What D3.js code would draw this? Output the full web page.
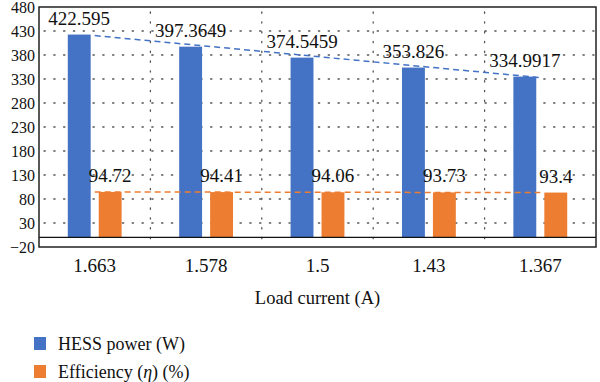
<!DOCTYPE html>
<html>
<head>
<meta charset="UTF-8">
<style>
  body { margin: 0; background: white; }
  svg { display: block; background: white; }
  .grid line { stroke: #555; stroke-width: 1.3; stroke-dasharray: 1.3 8.5; stroke-linecap: round; }
</style>
<script src="https://cdnjs.cloudflare.com/ajax/libs/d3/7.8.5/d3.min.js"></script>
</head>
<body>
<div id="chart"></div>
<script>
// data
const categories = ["1.663", "1.578", "1.5", "1.43", "1.367"];
const hessPower = [422.595, 397.3649, 374.5459, 353.826, 334.9917];
const efficiency = [94.72, 94.41, 94.06, 93.73, 93.4];
const yTicks = [-20, 30, 80, 130, 180, 230, 280, 330, 380, 430, 480];
const seriesNames = ["HESS power (W)", "Efficiency"];
const colors = ["#4472c4", "#ed7d31"];

const width = 600, height = 382;
const margin = {top: 7, right: 4, bottom: 135, left: 39};
const FONT = "Liberation Serif";

const svg = d3.select("#chart").append("svg")
    .attr("width", width)
    .attr("height", height)
    .attr("font-family", FONT);

// every text gets the font directly
function label(sel) {
    return sel.append("text").attr("font-family", FONT).attr("fill", "#111");
}

const x = d3.scaleBand()
    .domain(categories)
    .range([margin.left, width - margin.right]);

const xs = d3.scaleBand()
    .domain(d3.range(2))
    .range([0, x.bandwidth()])
    .paddingInner(0.26)
    .paddingOuter(0.93);

const y = d3.scaleLinear()
    .domain([-20, 480])
    .range([height - margin.bottom, margin.top]);

// dotted grid
const grid = svg.append("g").attr("class", "grid");
grid.selectAll(".h")
    .data(yTicks.slice(1, -1))
    .enter().append("line")
    .attr("x1", margin.left + 5)
    .attr("x2", width - margin.right - 2)
    .attr("y1", d => y(d))
    .attr("y2", d => y(d));
grid.selectAll(".v")
    .data(categories.slice(1))
    .enter().append("line")
    .attr("x1", d => x(d))
    .attr("x2", d => x(d))
    .attr("y1", margin.top + 5)
    .attr("y2", y(-20));

// bars
const series = [hessPower, efficiency];
series.forEach((vals, s) => {
    svg.append("g").selectAll("rect")
        .data(vals)
        .enter().append("rect")
        .attr("x", (d, i) => x(categories[i]) + xs(s))
        .attr("width", xs.bandwidth())
        .attr("y", d => y(d))
        .attr("height", d => y(0) - y(d))
        .attr("fill", colors[s]);
});

// linear trendlines, from first to last category centre
function trend(vals) {
    const idx = vals.map((d, i) => i + 1);
    const mx = d3.mean(idx), my = d3.mean(vals);
    const b = d3.sum(vals, (d, i) => (idx[i] - mx) * (d - my)) / d3.sum(idx, t => (t - mx) ** 2);
    return t => my + b * (t - mx);
}
series.forEach((vals, s) => {
    const f = trend(vals);
    svg.append("line")
        .attr("x1", x(categories[0]) + x.bandwidth() / 2)
        .attr("x2", x(categories[4]) + x.bandwidth() / 2)
        .attr("y1", y(f(1)))
        .attr("y2", y(f(5)))
        .attr("stroke", colors[s])
        .attr("stroke-width", 1.5)
        .attr("stroke-dasharray", "6 4");
});

// data labels
series.forEach((vals, s) => {
    const g = svg.append("g");
    vals.forEach((d, i) => {
        label(g)
            .attr("x", x(categories[i]) + xs(s) + xs.bandwidth() / 2)
            .attr("y", y(d) - 10)
            .attr("text-anchor", "middle")
            .attr("font-size", 19)
            .text(d);
    });
});

// zero line
svg.append("line")
    .attr("x1", margin.left).attr("x2", width - margin.right)
    .attr("y1", y(0)).attr("y2", y(0))
    .attr("stroke", "#111").attr("stroke-width", 1.3);

// frame
svg.append("rect")
    .attr("x", margin.left).attr("y", y(480))
    .attr("width", width - margin.right - margin.left)
    .attr("height", y(-20) - y(480))
    .attr("fill", "none")
    .attr("stroke", "#222").attr("stroke-width", 1.5);

// y axis labels
const yLab = svg.append("g");
yTicks.forEach(d => {
    label(yLab)
        .attr("x", margin.left - 4)
        .attr("y", y(d))
        .attr("dy", "0.35em")
        .attr("text-anchor", "end")
        .attr("font-size", 16)
        .text(d < 0 ? "\u2212" + Math.abs(d) : d);
});

// x axis labels
const xLab = svg.append("g");
categories.forEach(d => {
    label(xLab)
        .attr("x", x(d) + x.bandwidth() / 2)
        .attr("y", y(-20) + 25)
        .attr("text-anchor", "middle")
        .attr("font-size", 19)
        .text(d);
});

label(svg)
    .attr("x", (margin.left + width - margin.right) / 2)
    .attr("y", 304)
    .attr("text-anchor", "middle")
    .attr("font-size", 18.5)
    .text("Load current (A)");

// legend
const legend = svg.append("g").attr("transform", "translate(34,337)");
seriesNames.forEach((name, i) => {
    const g = legend.append("g").attr("transform", `translate(0,${i * 28})`);
    g.append("rect").attr("width", 12).attr("height", 13).attr("fill", colors[i]);
    const t = label(g).attr("x", 24).attr("y", 13).attr("font-size", 18);
    if (i === 0) {
        t.text(name);
    } else {
        t.append("tspan").text(name + " (");
        t.append("tspan").attr("font-style", "italic").text("\u03b7");
        t.append("tspan").text(") (%)");
    }
});
</script>
</body>
</html>
